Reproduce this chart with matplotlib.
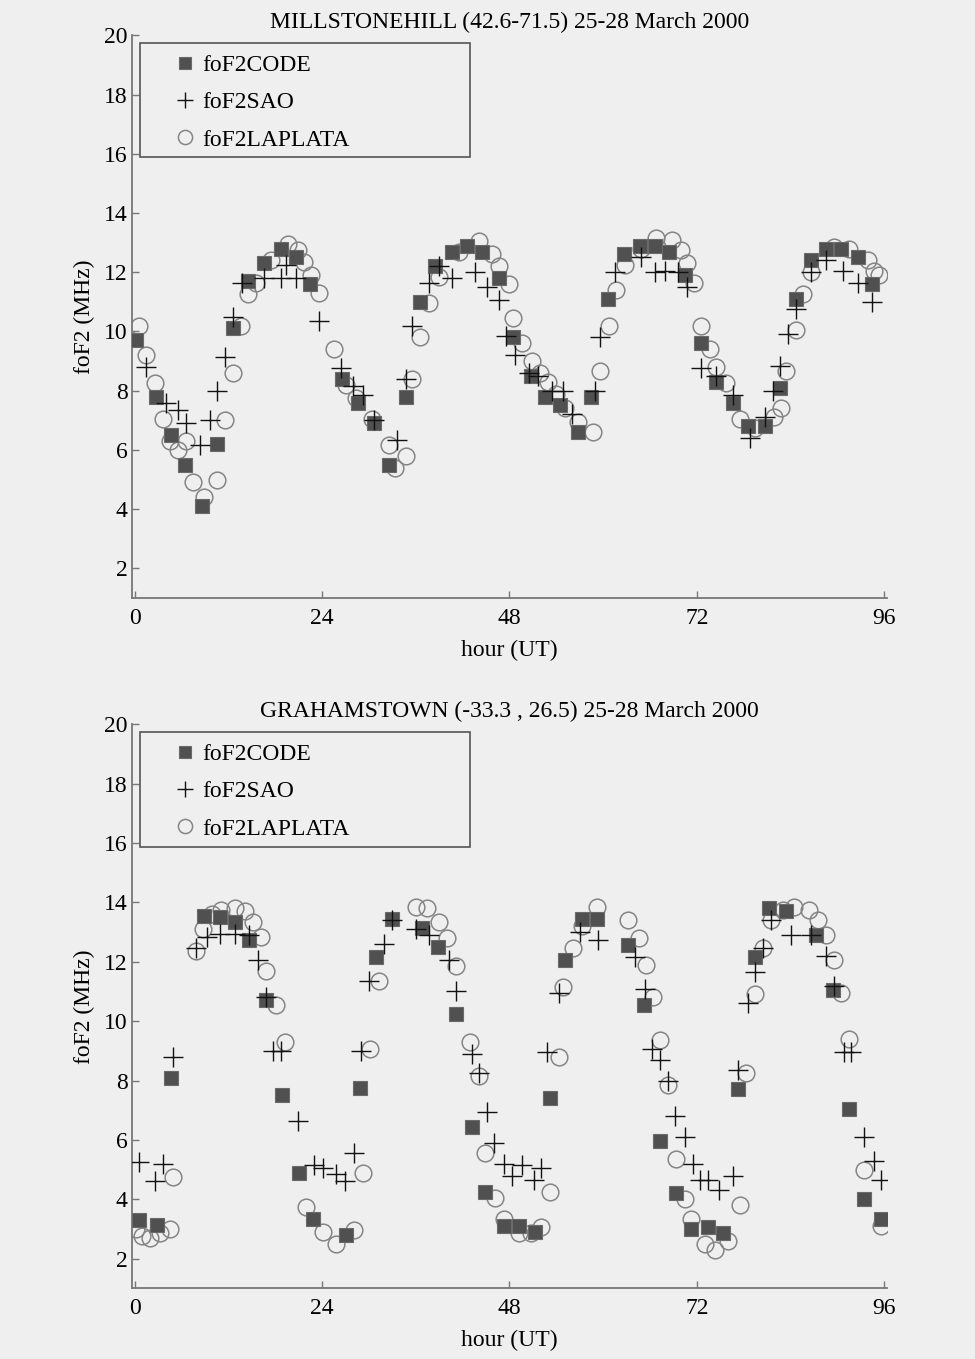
import numpy as np
import matplotlib.pyplot as plt
from matplotlib.patches import Rectangle

plt.rcParams['font.family'] = ['Liberation Serif', 'DejaVu Serif']

# Millstone Hill, 25-28 March 2000
msh_code_hour = [0.2, 2.7, 4.7, 6.5, 8.6, 10.6, 12.6, 14.5, 16.6, 18.7, 20.6, 22.5,
                 26.6, 28.6, 30.7, 32.6, 34.7, 36.6, 38.5, 40.7, 42.6, 44.5, 46.6,
                 48.5, 50.7, 52.6, 54.5, 56.8, 58.5, 60.6, 62.7, 64.7, 66.6, 68.5,
                 70.5, 72.6, 74.5, 76.6, 78.5, 80.7, 82.6, 84.7, 86.6, 88.6, 90.5,
                 92.6, 94.5]
msh_code = [9.7, 7.8, 6.5, 5.5, 4.1, 6.2, 10.1, 11.7, 12.3, 12.8, 12.5, 11.6,
            8.4, 7.6, 6.9, 5.5, 7.8, 11.0, 12.2, 12.7, 12.9, 12.7, 11.8,
            9.8, 8.5, 7.8, 7.5, 6.6, 7.8, 11.1, 12.6, 12.9, 12.9, 12.7,
            11.9, 9.6, 8.3, 7.6, 6.8, 6.8, 8.1, 11.1, 12.4, 12.8, 12.8,
            12.5, 11.6]

msh_sao_hour = [1.5, 4.0, 5.5, 6.6, 8.3, 9.6, 10.5, 11.6, 12.6, 13.8, 16.6, 18.7,
                19.4, 20.6, 23.6, 26.4, 27.9, 29.2, 30.7, 33.6, 34.7, 35.5, 37.7,
                39.0, 40.7, 43.6, 45.1, 46.6, 47.5, 48.7, 50.5, 51.7, 53.4, 54.9,
                56.0, 59.0, 59.6, 61.5, 64.9, 66.6, 67.9, 69.6, 70.7, 72.6, 74.5,
                76.6, 78.8, 80.7, 81.7, 82.6, 83.7, 84.7, 86.6, 88.6, 90.7, 92.6,
                94.5]
msh_sao = [8.8, 7.6, 7.35, 6.9, 6.15, 7.0, 8.0, 9.15, 10.5, 11.65, 11.8, 11.8,
           12.25, 11.8, 10.35, 8.75, 8.15, 7.85, 7.0, 6.35, 8.4, 10.2, 11.65,
           12.2, 11.8, 12.0, 11.5, 11.05, 9.85, 9.2, 8.6, 8.5, 8.0, 8.0,
           7.2, 8.0, 9.8, 12.0, 12.5, 12.0, 12.05, 12.0, 11.5, 8.75, 8.5,
           7.85, 6.4, 7.1, 8.0, 8.85, 9.9, 10.75, 12.0, 12.4, 12.05, 11.65,
           11.0]

msh_lp_hour = [0.6, 1.5, 2.6, 3.6, 4.5, 5.5, 6.6, 7.5, 8.9, 10.6, 11.6, 12.6,
               13.6, 14.5, 15.5, 17.5, 19.6, 20.9, 21.7, 22.6, 23.6, 25.5, 27.0,
               28.3, 30.4, 32.6, 33.4, 34.7, 35.5, 36.6, 37.7, 39.0, 41.5, 44.1,
               45.8, 46.6, 47.9, 48.5, 49.6, 50.9, 51.9, 53.0, 54.0, 55.1, 56.8,
               58.7, 59.6, 60.7, 61.7, 62.8, 64.8, 66.8, 68.8, 70.0, 70.7, 71.7,
               72.6, 73.7, 74.5, 75.8, 77.5, 79.4, 81.9, 82.8, 83.4, 84.7, 85.6,
               86.6, 89.6, 91.5, 93.9, 94.7, 95.4]
msh_lp = [10.2, 9.2, 8.25, 7.05, 6.3, 6.0, 6.3, 4.9, 4.4, 5.0, 7.0, 8.6,
          10.2, 11.25, 11.65, 12.4, 12.95, 12.75, 12.35, 11.9, 11.3, 9.4, 8.2,
          7.75, 7.05, 6.15, 5.4, 5.8, 8.4, 9.8, 10.95, 11.85, 12.7, 13.05,
          12.6, 12.2, 11.6, 10.45, 9.6, 9.0, 8.6, 8.3, 7.9, 7.4, 6.95,
          6.6, 8.65, 10.2, 11.4, 12.25, 12.8, 13.15, 13.1, 12.75, 12.3, 11.65,
          10.2, 9.4, 8.8, 8.25, 7.05, 6.75, 7.1, 7.4, 8.65, 10.05, 11.25,
          12.0, 12.85, 12.8, 12.4, 12.05, 11.9]

# Grahamstown, 25-28 March 2000
grh_code_hour = [0.6, 2.8, 4.7, 8.9, 10.9, 12.8, 14.7, 16.8, 18.9, 21.1, 22.8, 27.0,
                 28.9, 30.9, 33.0, 36.8, 38.9, 41.1, 43.2, 44.9, 47.3, 49.2, 51.3,
                 53.2, 55.1, 57.3, 59.2, 63.2, 65.3, 67.3, 69.4, 71.3, 73.4, 75.4,
                 77.3, 79.4, 81.3, 83.4, 87.3, 89.4, 91.5, 93.4, 95.6]
grh_code = [3.3, 3.15, 8.1, 13.55, 13.5, 13.35, 12.75, 10.7, 7.5, 4.9, 3.35, 2.8,
            7.75, 12.15, 13.45, 13.15, 12.5, 10.25, 6.45, 4.25, 3.1, 3.1, 2.9,
            7.4, 12.05, 13.45, 13.45, 12.55, 10.55, 5.95, 4.2, 3.0, 3.05, 2.85,
            7.7, 12.15, 13.8, 13.7, 12.9, 11.05, 7.05, 4.0, 3.35]

grh_sao_hour = [0.6, 2.6, 3.6, 4.9, 7.9, 9.2, 10.9, 12.8, 14.7, 15.8, 16.8, 17.7,
                18.7, 20.9, 23.0, 24.1, 25.8, 26.9, 28.1, 29.0, 30.0, 31.9, 33.0,
                36.0, 37.7, 40.2, 41.1, 43.2, 44.1, 45.1, 46.0, 47.3, 48.3, 49.6,
                51.1, 52.1, 52.8, 54.3, 57.1, 59.4, 64.1, 65.4, 66.2, 67.3, 68.3,
                69.2, 70.5, 71.5, 72.4, 73.4, 74.9, 76.6, 77.3, 78.5, 79.4, 80.5,
                81.5, 84.1, 86.6, 88.5, 89.6, 90.9, 91.7, 93.4, 94.7, 95.6]
grh_sao = [5.25, 4.6, 5.2, 8.8, 12.45, 12.85, 12.95, 12.95, 12.9, 12.05, 10.8, 9.0,
           9.0, 6.65, 5.15, 5.05, 4.85, 4.6, 5.55, 9.0, 11.35, 12.6, 13.4,
           13.1, 12.9, 12.05, 11.0, 8.9, 8.25, 6.95, 5.9, 5.2, 4.8, 5.15,
           4.65, 5.05, 8.95, 10.95, 13.0, 12.75, 12.15, 11.1, 9.05, 8.7, 8.0,
           6.8, 6.1, 5.2, 4.65, 4.65, 4.3, 4.8, 8.35, 10.6, 11.65, 12.45,
           13.4, 12.9, 12.9, 12.2, 11.2, 8.95, 8.95, 6.1, 5.3, 4.65]

grh_lp_hour = [0.2, 0.9, 1.9, 3.2, 4.5, 4.9, 7.9, 8.7, 9.9, 11.1, 12.8, 14.1,
               15.1, 16.2, 16.8, 18.1, 19.2, 21.9, 24.1, 25.8, 28.1, 29.2, 30.2,
               31.3, 36.0, 37.5, 39.0, 40.0, 41.1, 43.0, 44.1, 44.9, 46.2, 47.3,
               49.2, 50.7, 52.1, 53.2, 54.3, 54.9, 56.2, 57.3, 59.2, 63.2, 64.6,
               65.5, 66.4, 67.3, 68.3, 69.4, 70.5, 71.3, 73.0, 74.3, 76.0, 77.5,
               78.3, 79.4, 80.5, 81.5, 83.0, 84.5, 86.4, 87.5, 88.5, 89.6, 90.5,
               91.5, 93.4, 95.6]
grh_lp = [3.0, 2.75, 2.7, 2.85, 3.0, 4.75, 12.35, 13.1, 13.6, 13.75, 13.8, 13.7,
          13.35, 12.85, 11.7, 10.55, 9.3, 3.75, 2.9, 2.5, 2.95, 4.9, 9.05,
          11.35, 13.85, 13.8, 13.35, 12.8, 11.85, 9.3, 8.15, 5.55, 4.05, 3.35,
          2.85, 2.85, 3.05, 4.25, 8.8, 11.15, 12.45, 13.2, 13.85, 13.4, 12.8,
          11.9, 10.8, 9.35, 7.85, 5.35, 4.0, 3.35, 2.5, 2.3, 2.6, 3.8,
          8.25, 10.9, 12.45, 13.4, 13.75, 13.85, 13.75, 13.4, 12.9, 12.05, 10.95,
          9.4, 5.0, 3.1]

x_ticks = [0, 24, 48, 72, 96]
y_ticks = [2, 4, 6, 8, 10, 12, 14, 16, 18, 20]

bg = '#efefef'
fs = 17


def panel(ax, title, code_h, code, sao_h, sao, lp_h, lp):
    ax.set_facecolor(bg)
    lp_line, = ax.plot(lp_h, lp, 'o', ms=12, mfc='none', mec='#858585', mew=1.1,
                       zorder=2, label='foF2LAPLATA')
    code_line, = ax.plot(code_h, code, 's', ms=9.5, mfc='#505050', mec='#6a6a6a',
                         mew=0.8, zorder=3, label='foF2CODE')
    sao_line, = ax.plot(sao_h, sao, '+', ms=14, mec='#111111', mew=1.0,
                        zorder=4, label='foF2SAO')

    ax.set_xlim(-0.4, 96.4)
    ax.set_ylim(1, 20)
    ax.set_xticks(x_ticks)
    ax.set_yticks(y_ticks)
    ax.tick_params(direction='in', length=5, width=1, color='#777777',
                   labelsize=fs)
    ax.tick_params(axis='x', pad=7)
    ax.tick_params(axis='y', pad=3)
    for side in ['top', 'right']:
        ax.spines[side].set_visible(False)
    for side in ['left', 'bottom']:
        ax.spines[side].set_color('#777777')
        ax.spines[side].set_linewidth(1.3)

    ax.set_title(title, fontsize=fs, pad=5)
    ax.set_xlabel('hour (UT)', fontsize=fs, labelpad=8)
    ax.set_ylabel('foF2 (MHz)', fontsize=fs, labelpad=6)

    # legend box is drawn separately so the symbols sit well inside it
    ax.add_patch(Rectangle((0.011, 0.783), 0.437, 0.203, transform=ax.transAxes,
                           fill=False, ec='#555555', lw=1.2, zorder=5))
    ax.legend(handles=[code_line, sao_line, lp_line], loc='upper left',
              bbox_to_anchor=(0.0575, 0.966), frameon=False, fontsize=fs,
              handlelength=0.8, handletextpad=0.35, labelspacing=0.67,
              borderpad=0, borderaxespad=0, numpoints=1, markerscale=0.85)


fig = plt.figure(figsize=(9.75, 13.59), dpi=100, facecolor=bg)
ax1 = fig.add_axes([0.135, 0.560, 0.775, 0.414])
ax2 = fig.add_axes([0.135, 0.052, 0.775, 0.415])

panel(ax1, 'MILLSTONEHILL (42.6-71.5) 25-28 March 2000',
      msh_code_hour, msh_code, msh_sao_hour, msh_sao, msh_lp_hour, msh_lp)
panel(ax2, 'GRAHAMSTOWN (-33.3 , 26.5) 25-28 March 2000',
      grh_code_hour, grh_code, grh_sao_hour, grh_sao, grh_lp_hour, grh_lp)

fig.savefig('out.png', dpi=100, facecolor=bg)
